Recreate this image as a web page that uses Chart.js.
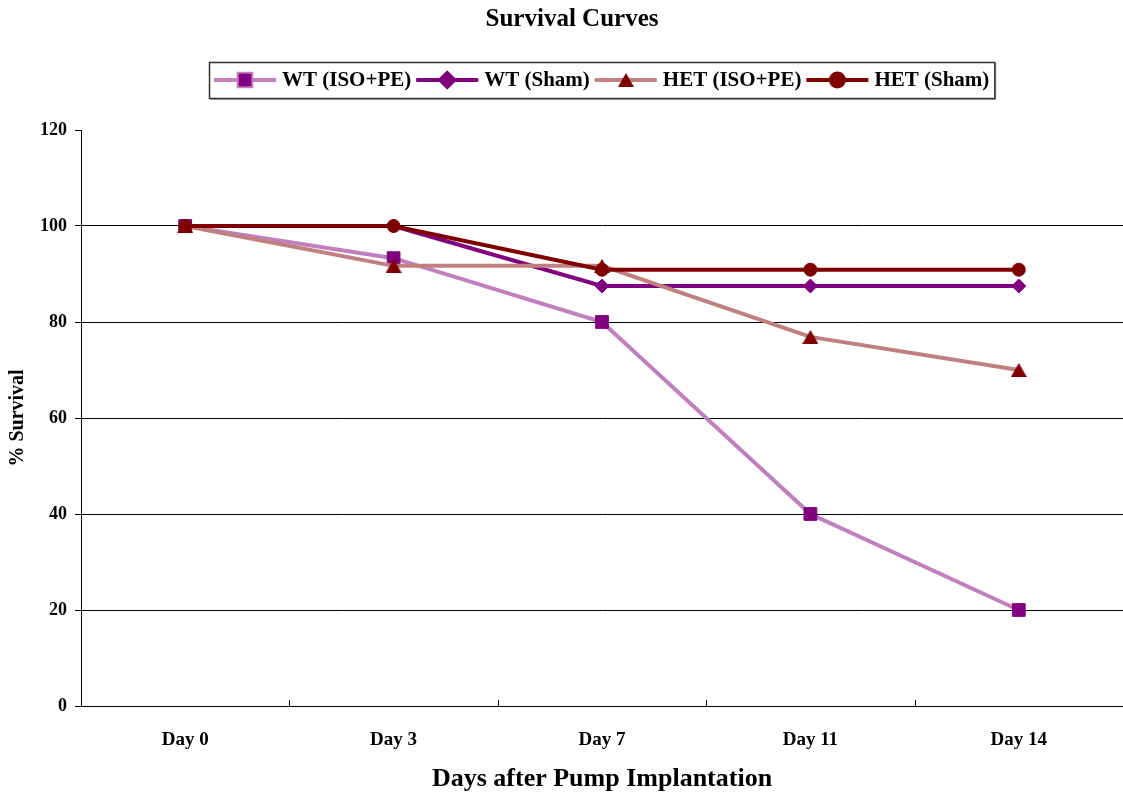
<!DOCTYPE html>
<html>
<head>
<meta charset="utf-8">
<title>Survival Curves</title>
<script src="https://cdn.jsdelivr.net/npm/chart.js@4.4.1/dist/chart.umd.min.js"></script>
<style>
  html, body { margin: 0; padding: 0; background: #fff; }
  #wrap { position: relative; width: 1123px; height: 797px; }
</style>
</head>
<body>
<div id="wrap"><canvas id="chart" width="1123" height="797"></canvas></div>
<script>
// Days after implantation (category axis)
const days = ['Day 0', 'Day 3', 'Day 7', 'Day 11', 'Day 14'];

// Percent survival per group
const wtIsoPe   = [100, 93.3, 80, 40, 20];
const wtSham    = [100, 100, 87.5, 87.5, 87.5];
const hetIsoPe  = [100, 91.7, 91.7, 76.9, 70];
const hetSham   = [100, 100, 90.9, 90.9, 90.9];

// Y axis range
const yMin = 0, yMax = 120, yStep = 20;

const chartTitle = 'Survival Curves';
const serif = "'Liberation Serif', 'Times New Roman', serif";

// Triangle marker whose bounding box is centred on the data point
function triangleMarker(color, w, h) {
  const c = document.createElement('canvas');
  c.width = w; c.height = h;
  const g = c.getContext('2d');
  g.fillStyle = color;
  g.beginPath();
  g.moveTo(w / 2, 0);
  g.lineTo(w, h);
  g.lineTo(0, h);
  g.closePath();
  g.fill();
  return c;
}

function series(label, data, lineColor, markColor, style, radius, order) {
  return {
    label, data,
    borderColor: lineColor,
    backgroundColor: markColor,
    borderWidth: 4,
    pointStyle: style,
    pointRadius: radius,
    pointHoverRadius: radius,
    pointBackgroundColor: markColor,
    pointBorderColor: markColor,
    pointBorderWidth: 1,
    tension: 0,
    fill: false,
    order
  };
}

// Chart heading, placed above the legend
const heading = {
  id: 'heading',
  afterDraw(chart) {
    const ctx = chart.ctx;
    ctx.save();
    ctx.font = "bold 25px " + serif;
    ctx.fillStyle = '#000';
    ctx.textAlign = 'center';
    ctx.textBaseline = 'middle';
    ctx.fillText(chartTitle, 572, 20);
    ctx.restore();
  }
};

// Legend: boxed row of line-with-marker samples, centred on the plot area
const lineLegend = {
  id: 'lineLegend',
  afterDraw(chart) {
    const ctx = chart.ctx;
    const area = chart.chartArea;
    const sets = chart.data.datasets;
    ctx.save();
    ctx.font = "bold 21px " + serif;
    const sample = 62, gapText = 6, gapItem = 5, pad = 5;
    const widths = sets.map(d => ctx.measureText(d.label).width);
    let total = pad * 2;
    widths.forEach((w, i) => { total += sample + gapText + w + (i < widths.length - 1 ? gapItem : 0); });
    const cx = (area.left + area.right) / 2;
    const left = Math.round(cx - total / 2);
    const top = 62, h = 36, cy = top + h / 2;

    // shadow + frame
    ctx.fillStyle = 'rgba(0,0,0,0.3)';
    ctx.fillRect(left + 1, top + 1, total + 1, h + 1);
    ctx.fillStyle = '#fff';
    ctx.fillRect(left, top, total, h);
    ctx.strokeStyle = '#333';
    ctx.lineWidth = 1.5;
    ctx.strokeRect(left + 0.5, top + 0.5, total, h);

    let x = left + pad;
    sets.forEach((d, i) => {
      ctx.strokeStyle = d.borderColor;
      ctx.lineWidth = d.borderWidth;
      ctx.beginPath();
      ctx.moveTo(x, cy);
      ctx.lineTo(x + sample, cy);
      ctx.stroke();
      const mx = x + sample / 2;
      if (d.pointStyle instanceof HTMLCanvasElement) {
        ctx.drawImage(d.pointStyle, Math.round(mx - d.pointStyle.width / 2), Math.round(cy - d.pointStyle.height / 2));
      } else {
        Chart.helpers.drawPoint(ctx, {
          pointStyle: d.pointStyle,
          radius: d.pointRadius,
          rotation: 0,
          borderWidth: d.pointBorderWidth
        }, mx, cy);
        ctx.fillStyle = d.pointBackgroundColor;
        ctx.fill();
      }
      x += sample + gapText;
      ctx.fillStyle = '#000';
      ctx.textBaseline = 'middle';
      ctx.textAlign = 'left';
      ctx.fillText(d.label, x, cy + 1);
      x += widths[i] + gapItem;
    });
    ctx.restore();
  }
};

// Small inward tick marks on the category axis, between categories
const innerTicks = {
  id: 'innerTicks',
  afterDatasetsDraw(chart) {
    const xs = chart.scales.x;
    const ctx = chart.ctx;
    const bottom = chart.chartArea.bottom;
    ctx.save();
    ctx.strokeStyle = '#000';
    ctx.lineWidth = 1;
    for (let i = 0; i < days.length - 1; i++) {
      const px = Math.round((xs.getPixelForValue(i) + xs.getPixelForValue(i + 1)) / 2) + 0.5;
      ctx.beginPath();
      ctx.moveTo(px, bottom);
      ctx.lineTo(px, bottom - 6);
      ctx.stroke();
    }
    ctx.restore();
  }
};

new Chart(document.getElementById('chart'), {
  type: 'line',
  data: {
    labels: days,
    datasets: [
      series('WT (ISO+PE)',  wtIsoPe,  '#C080C0', '#800080', 'rect',     9, 4),
      series('WT (Sham)',    wtSham,   '#800080', '#800080', 'rectRot',  7, 3),
      series('HET (ISO+PE)', hetIsoPe, '#C08080', '#800000', triangleMarker('#800000', 16, 14), 8, 2),
      series('HET (Sham)',   hetSham,  '#800000', '#800000', 'circle',   6.5, 1)
    ]
  },
  options: {
    responsive: false,
    animation: false,
    layout: { autoPadding: false, padding: { left: 0, right: 0, top: 130, bottom: 0 } },
    plugins: {
      legend: { display: false },
      tooltip: { enabled: false },
      title: { display: false }
    },
    scales: {
      x: {
        offset: true,
        grid: { display: true, drawOnChartArea: false, drawTicks: false },
        border: { display: true, color: '#000', width: 1 },
        ticks: {
          color: '#000',
          padding: 23,
          font: { family: serif, size: 19, weight: 'bold' }
        },
        title: {
          display: true,
          text: 'Days after Pump Implantation',
          color: '#000',
          font: { family: serif, size: 26, weight: 'bold', lineHeight: 1.2 },
          padding: { top: 0, bottom: 2 }
        },
        afterFit(scale) { scale.height = 91; }
      },
      y: {
        min: yMin,
        max: yMax,
        ticks: {
          stepSize: yStep,
          color: '#000',
          padding: 8,
          font: { family: serif, size: 18, weight: 'bold' }
        },
        grid: {
          color: c => (c.tick && c.tick.value === yMax) ? 'rgba(0,0,0,0)' : '#000',
          tickColor: '#000',
          tickLength: 6,
          lineWidth: 1
        },
        border: { display: true, color: '#000', width: 1 },
        title: {
          display: true,
          text: '% Survival',
          color: '#000',
          font: { family: serif, size: 20, weight: 'bold', lineHeight: 1.2 },
          padding: { top: 6, bottom: 0 }
        },
        afterFit(scale) { scale.width = 81; }
      }
    }
  },
  plugins: [innerTicks, lineLegend, heading]
});
</script>
</body>
</html>
